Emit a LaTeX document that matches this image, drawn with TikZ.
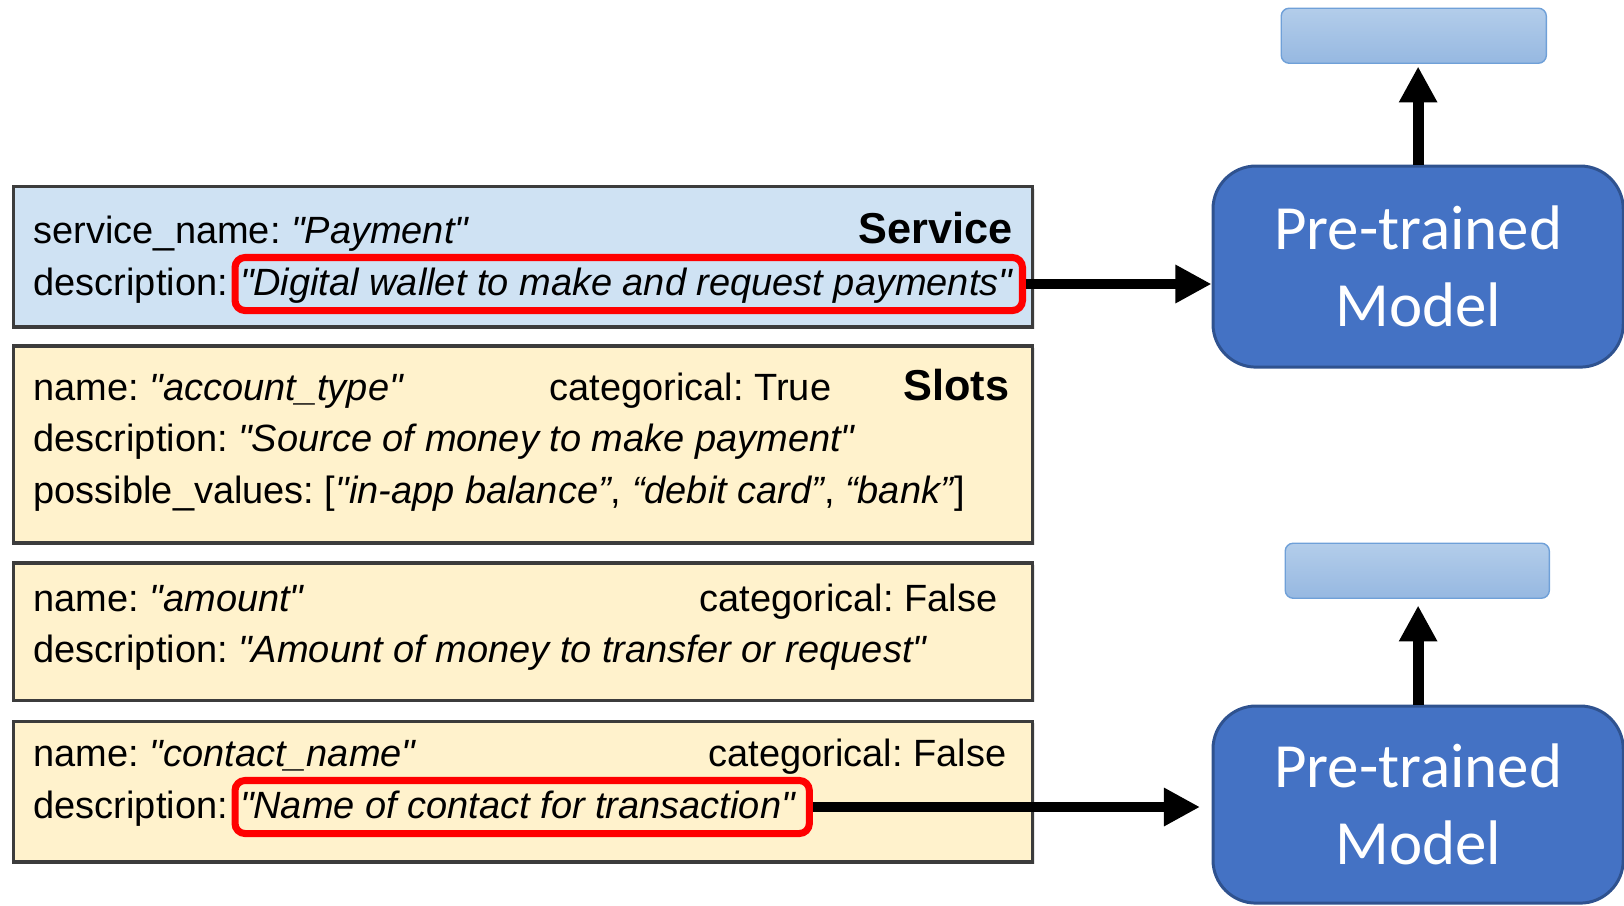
\documentclass[tikz,border=0pt]{standalone}
\usepackage{fontspec}
\newfontfamily\slidefont{Liberation Sans}
\newfontfamily\modelfont{Carlito}
\usepackage{tikz}
\usetikzlibrary{positioning, arrows.meta, shadows}
\usepackage{xcolor}
\definecolor{svcblue}{HTML}{CFE2F3}
\definecolor{slotyellow}{HTML}{FFF2CC}
\definecolor{boxline}{HTML}{3C3C3C}
\definecolor{modelblue}{HTML}{4472C4}
\definecolor{modelline}{HTML}{2F528F}
\definecolor{outtop}{HTML}{B3CDEA}
\definecolor{outbot}{HTML}{96B8E1}
\definecolor{outedge}{HTML}{6FA0D8}
\newcommand{\hstrut}{\rule[-0.155cm]{0pt}{0.53cm}}

\begin{document}
\frenchspacing
\begin{tikzpicture}[x=0.01cm, y=-0.01cm,
    card/.style={draw=boxline, line width=1pt, fill=svcblue, minimum width=10.185cm, inner sep=0pt,
      drop shadow={opacity=0.2, shadow xshift=0.02cm, shadow yshift=-0.02cm}},
    slotcard/.style={card, fill=slotyellow},
    field/.style={anchor=base west, inner sep=0pt, font=\slidefont\fontsize{10.8}{14.8}\selectfont},
    tag/.style={anchor=base east, inner sep=0pt, font=\slidefont\fontsize{12.3}{14.8}\selectfont\bfseries},
    hilite/.style={draw=red, line width=2pt, rounded corners=0.1cm, anchor=base west, inner xsep=0.05cm, inner ysep=0pt,
      font=\slidefont\fontsize{10.8}{14.8}\selectfont\itshape},
    model/.style={draw=modelline, line width=0.85pt, fill=modelblue, rounded corners=0.43cm, minimum width=4.1cm,
      text=white, align=center, font=\modelfont\fontsize{17.9}{21.9}\selectfont},
    outbox/.style={draw=outedge, line width=0.4pt, top color=outtop, bottom color=outbot, rounded corners=0.08cm,
      minimum width=2.65cm, minimum height=0.55cm, anchor=north west},
    flow/.style={line width=3.1pt, -{Triangle[width=0.36cm, length=0.36cm]}}]
  \useasboundingbox (0,0) rectangle (1624,905);

  % schema cards
  \node[card, minimum height=1.405cm, anchor=north west] (svc) at (11.75,184.75) {};
  \node[slotcard, minimum height=1.965cm, below=0.155cm of svc] (slot1) {};
  \node[slotcard, minimum height=1.375cm, below=0.165cm of slot1] (slot2) {};
  \node[slotcard, minimum height=1.405cm, below=0.175cm of slot2] (slot3) {};

  % service
  \node[field] (svcname) at (33,243) {service\_name: \textit{"Payment"}};
  \node[tag] (svctag) at (1013,243) {Service};
  \node[field] (svcdesc) at (33,295) {description:};

  % slot 1
  \node[field] (s1name) at (33,400) {name: \textit{"account\_type"}};
  \node[field] (s1cat) at (549,400) {categorical: True};
  \node[tag] (s1tag) at (1010,400) {Slots};
  \node[field] (s1desc) at (33,451) {description: \textit{"Source of money to make payment"}};
  \node[field] (s1vals) at (33,503) {possible\_values: [\textit{"in-app balance”}, \textit{“debit card”}, \textit{“bank”}]};

  % slot 2
  \node[field] (s2name) at (33,611) {name: \textit{"amount"}};
  \node[field, anchor=base east] (s2cat) at (998,611) {categorical: False};
  \node[field] (s2desc) at (33,662) {description: \textit{"Amount of money to transfer or request"}};

  % slot 3
  \node[field] (s3name) at (33,766) {name: \textit{"contact\_name"}};
  \node[field, anchor=base east] (s3cat) at (1007,766) {categorical: False};
  \node[field] (s3desc) at (33,818) {description:};

  % highlighted descriptions
  \node[hilite] (desc1) at (231.5,295) {\makebox[7.77cm][l]{\hstrut"Digital wallet to make and request payments"}};
  \node[hilite] (desc3) at (231.5,818) {\makebox[5.64cm][l]{\hstrut"Name of contact for transaction"}};

  % encoders
  \node[model, minimum height=2.01cm, anchor=north west] (model1) at (1211.5,164.5) {Pre-trained\\Model};
  \node[model, minimum height=1.97cm, anchor=north west] (model2) at (1211.5,704.5) {Pre-trained\\Model};
  \node[outbox] (out1) at (1280.5,7.5) {};
  \node[outbox, minimum width=2.64cm] (out2) at (1284.5,542.5) {};

  \draw[flow] (desc1.east) -- (desc1.east -| model1.west);
  \draw[flow, shorten >=0.115cm] (desc3.east) -- (desc3.east -| model2.west);
  \draw[flow, shorten >=0.025cm] (model1.north) -- (model1.north |- out1.south);
  \draw[flow, shorten >=0.065cm] (model2.north) -- (model2.north |- out2.south);
\end{tikzpicture}
\end{document}
